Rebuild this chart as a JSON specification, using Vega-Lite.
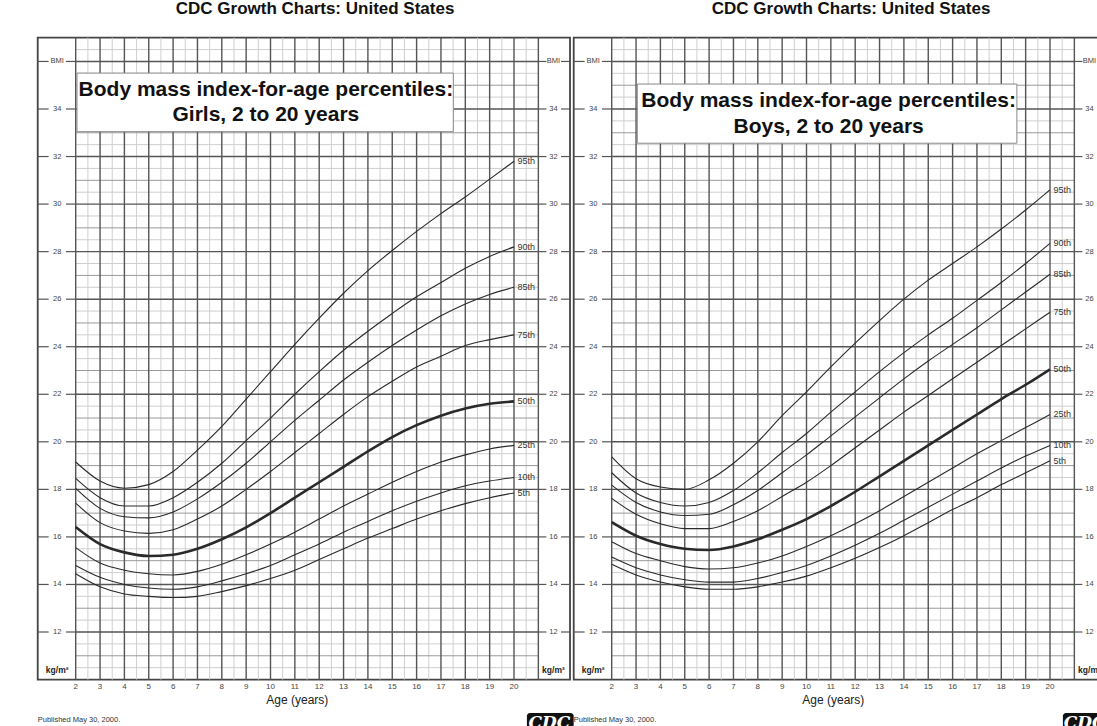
{
"$schema":"https://vega.github.io/schema/vega-lite/v6.json",
"width":1097,"height":726,"autosize":{"type":"none"},"padding":0,"background":"white",
"config":{"view":{"stroke":null},"font":"Liberation Sans"},
"datasets":{
"vmaj":[{"v":2},{"v":3},{"v":4},{"v":5},{"v":6},{"v":7},{"v":8},{"v":9},{"v":10},{"v":11},{"v":12},{"v":13},{"v":14},{"v":15},{"v":16},{"v":17},{"v":18},{"v":19},{"v":20},{"v":21}],
"vmin":[{"v":2.5},{"v":3.5},{"v":4.5},{"v":5.5},{"v":6.5},{"v":7.5},{"v":8.5},{"v":9.5},{"v":10.5},{"v":11.5},{"v":12.5},{"v":13.5},{"v":14.5},{"v":15.5},{"v":16.5},{"v":17.5},{"v":18.5},{"v":19.5},{"v":20.5}],
"heven":[{"v":12},{"v":14},{"v":16},{"v":18},{"v":20},{"v":22},{"v":24},{"v":26},{"v":28},{"v":30},{"v":32},{"v":34},{"v":36}],
"hodd":[{"v":11},{"v":13},{"v":15},{"v":17},{"v":19},{"v":21},{"v":23},{"v":25},{"v":27},{"v":29},{"v":31},{"v":33},{"v":35}],
"hhalf":[{"v":10.5},{"v":11.5},{"v":12.5},{"v":13.5},{"v":14.5},{"v":15.5},{"v":16.5},{"v":17.5},{"v":18.5},{"v":19.5},{"v":20.5},{"v":21.5},{"v":22.5},{"v":23.5},{"v":24.5},{"v":25.5},{"v":26.5},{"v":27.5},{"v":28.5},{"v":29.5},{"v":30.5},{"v":31.5},{"v":32.5},{"v":33.5},{"v":34.5},{"v":35.5},{"v":36.5}],
"ylab":[{"v":12,"t":"12"},{"v":14,"t":"14"},{"v":16,"t":"16"},{"v":18,"t":"18"},{"v":20,"t":"20"},{"v":22,"t":"22"},{"v":24,"t":"24"},{"v":26,"t":"26"},{"v":28,"t":"28"},{"v":30,"t":"30"},{"v":32,"t":"32"},{"v":34,"t":"34"},{"v":36,"t":"BMI"}],
"girls":[
{"age":2,"5th":14.45,"10th":14.8,"25th":15.55,"50th":16.42,"75th":17.42,"85th":18.04,"90th":18.46,"95th":19.15},
{"age":3,"5th":13.9,"10th":14.3,"25th":14.9,"50th":15.7,"75th":16.6,"85th":17.2,"90th":17.65,"95th":18.35},
{"age":4,"5th":13.6,"10th":14.0,"25th":14.6,"50th":15.35,"75th":16.25,"85th":16.85,"90th":17.3,"95th":18.05},
{"age":5,"5th":13.5,"10th":13.85,"25th":14.45,"50th":15.2,"75th":16.15,"85th":16.8,"90th":17.3,"95th":18.2},
{"age":6,"5th":13.45,"10th":13.8,"25th":14.4,"50th":15.25,"75th":16.3,"85th":17.05,"90th":17.65,"95th":18.75},
{"age":7,"5th":13.5,"10th":13.9,"25th":14.55,"50th":15.5,"75th":16.75,"85th":17.6,"90th":18.3,"95th":19.65},
{"age":8,"5th":13.7,"10th":14.15,"25th":14.85,"50th":15.9,"75th":17.3,"85th":18.3,"90th":19.1,"95th":20.65},
{"age":9,"5th":13.95,"10th":14.45,"25th":15.25,"50th":16.4,"75th":18.0,"85th":19.1,"90th":20.05,"95th":21.8},
{"age":10,"5th":14.25,"10th":14.8,"25th":15.7,"50th":17.0,"75th":18.75,"85th":20.0,"90th":21.0,"95th":22.95},
{"age":11,"5th":14.6,"10th":15.25,"25th":16.2,"50th":17.65,"75th":19.55,"85th":20.9,"90th":22.0,"95th":24.1},
{"age":12,"5th":15.05,"10th":15.7,"25th":16.75,"50th":18.3,"75th":20.35,"85th":21.75,"90th":22.95,"95th":25.2},
{"age":13,"5th":15.5,"10th":16.2,"25th":17.3,"50th":18.95,"75th":21.15,"85th":22.6,"90th":23.85,"95th":26.25},
{"age":14,"5th":15.95,"10th":16.65,"25th":17.8,"50th":19.6,"75th":21.9,"85th":23.35,"90th":24.65,"95th":27.2},
{"age":15,"5th":16.35,"10th":17.1,"25th":18.3,"50th":20.2,"75th":22.55,"85th":24.05,"90th":25.4,"95th":28.05},
{"age":16,"5th":16.75,"10th":17.5,"25th":18.75,"50th":20.7,"75th":23.15,"85th":24.7,"90th":26.1,"95th":28.85},
{"age":17,"5th":17.1,"10th":17.85,"25th":19.15,"50th":21.1,"75th":23.6,"85th":25.3,"90th":26.7,"95th":29.6},
{"age":18,"5th":17.4,"10th":18.15,"25th":19.45,"50th":21.4,"75th":24.05,"85th":25.8,"90th":27.3,"95th":30.3},
{"age":19,"5th":17.65,"10th":18.35,"25th":19.7,"50th":21.6,"75th":24.3,"85th":26.2,"90th":27.8,"95th":31.05},
{"age":20,"5th":17.85,"10th":18.5,"25th":19.85,"50th":21.7,"75th":24.5,"85th":26.5,"90th":28.2,"95th":31.8}],
"boys":[
{"age":2,"5th":14.85,"10th":15.15,"25th":15.8,"50th":16.62,"75th":17.62,"85th":18.18,"90th":18.7,"95th":19.37},
{"age":3,"5th":14.4,"10th":14.7,"25th":15.3,"50th":16.05,"75th":16.95,"85th":17.45,"90th":17.85,"95th":18.45},
{"age":4,"5th":14.1,"10th":14.4,"25th":15.0,"50th":15.7,"75th":16.55,"85th":17.05,"90th":17.45,"95th":18.1},
{"age":5,"5th":13.9,"10th":14.2,"25th":14.75,"50th":15.5,"75th":16.35,"85th":16.9,"90th":17.3,"95th":18.0},
{"age":6,"5th":13.8,"10th":14.1,"25th":14.65,"50th":15.45,"75th":16.35,"85th":16.95,"90th":17.45,"95th":18.4},
{"age":7,"5th":13.8,"10th":14.1,"25th":14.7,"50th":15.6,"75th":16.65,"85th":17.35,"90th":17.95,"95th":19.1},
{"age":8,"5th":13.9,"10th":14.25,"25th":14.9,"50th":15.9,"75th":17.1,"85th":17.95,"90th":18.7,"95th":20.0},
{"age":9,"5th":14.1,"10th":14.5,"25th":15.2,"50th":16.3,"75th":17.7,"85th":18.7,"90th":19.55,"95th":21.1},
{"age":10,"5th":14.35,"10th":14.8,"25th":15.6,"50th":16.75,"75th":18.3,"85th":19.45,"90th":20.35,"95th":22.1},
{"age":11,"5th":14.7,"10th":15.2,"25th":16.05,"50th":17.3,"75th":19.0,"85th":20.25,"90th":21.25,"95th":23.15},
{"age":12,"5th":15.1,"10th":15.65,"25th":16.55,"50th":17.9,"75th":19.75,"85th":21.05,"90th":22.1,"95th":24.15},
{"age":13,"5th":15.55,"10th":16.15,"25th":17.1,"50th":18.55,"75th":20.5,"85th":21.85,"90th":22.95,"95th":25.1},
{"age":14,"5th":16.05,"10th":16.7,"25th":17.7,"50th":19.2,"75th":21.25,"85th":22.65,"90th":23.75,"95th":26.0},
{"age":15,"5th":16.6,"10th":17.25,"25th":18.3,"50th":19.85,"75th":21.95,"85th":23.4,"90th":24.5,"95th":26.8},
{"age":16,"5th":17.15,"10th":17.8,"25th":18.9,"50th":20.5,"75th":22.65,"85th":24.1,"90th":25.2,"95th":27.5},
{"age":17,"5th":17.65,"10th":18.35,"25th":19.5,"50th":21.15,"75th":23.35,"85th":24.8,"90th":25.95,"95th":28.2},
{"age":18,"5th":18.2,"10th":18.9,"25th":20.05,"50th":21.8,"75th":24.05,"85th":25.55,"90th":26.7,"95th":28.95},
{"age":19,"5th":18.7,"10th":19.4,"25th":20.6,"50th":22.4,"75th":24.75,"85th":26.3,"90th":27.5,"95th":29.75},
{"age":20,"5th":19.2,"10th":19.85,"25th":21.15,"50th":23.05,"75th":25.45,"85th":27.05,"90th":28.35,"95th":30.6}]
},
"resolve":{"scale":{"x":"independent"}},
"layer":[
{"layer":[
{"data":{"values":[{}]},"mark":{"type":"rect","filled":false,"stroke":"#444","strokeWidth":1.8},"encoding":{"x":{"datum":0.44,"type":"quantitative","scale":{"domain":[-23.121,21.93],"nice":false,"zero":false},"axis":null},"x2":{"datum":22.3},"y":{"datum":10,"type":"quantitative","scale":{"domain":[8.046,38.585],"nice":false,"zero":false},"axis":null},"y2":{"datum":37}}},
{"data":{"name":"vmin"},"mark":{"type":"rule","stroke":"#cfcfcf","strokeWidth":1},"encoding":{"x":{"field":"v","type":"quantitative","scale":{"domain":[-23.121,21.93],"nice":false,"zero":false},"axis":null},"y":{"datum":10,"type":"quantitative","scale":{"domain":[8.046,38.585],"nice":false,"zero":false},"axis":null},"y2":{"datum":37}}},
{"data":{"name":"hhalf"},"mark":{"type":"rule","stroke":"#cfcfcf","strokeWidth":1},"encoding":{"y":{"field":"v","type":"quantitative","scale":{"domain":[8.046,38.585],"nice":false,"zero":false},"axis":null},"x":{"datum":2,"type":"quantitative","scale":{"domain":[-23.121,21.93],"nice":false,"zero":false},"axis":null},"x2":{"datum":21}}},
{"data":{"name":"hodd"},"mark":{"type":"rule","stroke":"#9a9a9a","strokeWidth":1},"encoding":{"y":{"field":"v","type":"quantitative","scale":{"domain":[8.046,38.585],"nice":false,"zero":false},"axis":null},"x":{"datum":2,"type":"quantitative","scale":{"domain":[-23.121,21.93],"nice":false,"zero":false},"axis":null},"x2":{"datum":21}}},
{"data":{"name":"vmaj"},"mark":{"type":"rule","stroke":"#555","strokeWidth":1.4},"encoding":{"x":{"field":"v","type":"quantitative","scale":{"domain":[-23.121,21.93],"nice":false,"zero":false},"axis":null},"y":{"datum":10,"type":"quantitative","scale":{"domain":[8.046,38.585],"nice":false,"zero":false},"axis":null},"y2":{"datum":37}}},
{"data":{"name":"heven"},"mark":{"type":"rule","stroke":"#555","strokeWidth":1.4},"encoding":{"y":{"field":"v","type":"quantitative","scale":{"domain":[8.046,38.585],"nice":false,"zero":false},"axis":null},"x":{"datum":2,"type":"quantitative","scale":{"domain":[-23.121,21.93],"nice":false,"zero":false},"axis":null},"x2":{"datum":21}}},
{"data":{"name":"heven"},"mark":{"type":"rule","stroke":"#555","strokeWidth":1.2},"encoding":{"y":{"field":"v","type":"quantitative","scale":{"domain":[8.046,38.585],"nice":false,"zero":false},"axis":null},"x":{"datum":0.44,"type":"quantitative","scale":{"domain":[-23.121,21.93],"nice":false,"zero":false},"axis":null},"x2":{"datum":0.89}}},
{"data":{"name":"heven"},"mark":{"type":"rule","stroke":"#555","strokeWidth":1.2},"encoding":{"y":{"field":"v","type":"quantitative","scale":{"domain":[8.046,38.585],"nice":false,"zero":false},"axis":null},"x":{"datum":1.6,"type":"quantitative","scale":{"domain":[-23.121,21.93],"nice":false,"zero":false},"axis":null},"x2":{"datum":2}}},
{"data":{"name":"heven"},"mark":{"type":"rule","stroke":"#555","strokeWidth":1.2},"encoding":{"y":{"field":"v","type":"quantitative","scale":{"domain":[8.046,38.585],"nice":false,"zero":false},"axis":null},"x":{"datum":21,"type":"quantitative","scale":{"domain":[-23.121,21.93],"nice":false,"zero":false},"axis":null},"x2":{"datum":21.33}}},
{"data":{"name":"heven"},"mark":{"type":"rule","stroke":"#555","strokeWidth":1.2},"encoding":{"y":{"field":"v","type":"quantitative","scale":{"domain":[8.046,38.585],"nice":false,"zero":false},"axis":null},"x":{"datum":21.93,"type":"quantitative","scale":{"domain":[-23.121,21.93],"nice":false,"zero":false},"axis":null},"x2":{"datum":22.3}}},
{"data":{"values":[{}]},"mark":{"type":"rect","fill":"white","stroke":"#888","strokeWidth":1},"encoding":{"x":{"datum":3.05,"type":"quantitative","scale":{"domain":[-23.121,21.93],"nice":false,"zero":false},"axis":null},"x2":{"datum":18.64},"y":{"datum":32.56,"type":"quantitative","scale":{"domain":[8.046,38.585],"nice":false,"zero":false},"axis":null},"y2":{"datum":35.05}}},
{"data":{"values":[{}]},"mark":{"type":"text","text":"Body mass index-for-age percentiles:","font":"Liberation Sans","fontWeight":"bold","fontSize":21,"align":"center","baseline":"middle","fill":"#111"},"encoding":{"x":{"datum":10.91,"type":"quantitative","scale":{"domain":[-23.121,21.93],"nice":false,"zero":false},"axis":null},"y":{"datum":34.32,"type":"quantitative","scale":{"domain":[8.046,38.585],"nice":false,"zero":false},"axis":null}}},
{"data":{"values":[{}]},"mark":{"type":"text","text":"Boys, 2 to 20 years","font":"Liberation Sans","fontWeight":"bold","fontSize":21,"align":"center","baseline":"middle","fill":"#111"},"encoding":{"x":{"datum":10.91,"type":"quantitative","scale":{"domain":[-23.121,21.93],"nice":false,"zero":false},"axis":null},"y":{"datum":33.26,"type":"quantitative","scale":{"domain":[8.046,38.585],"nice":false,"zero":false},"axis":null}}},
{"data":{"name":"boys"},"transform":[{"fold":["5th","10th","25th","50th","75th","85th","90th","95th"],"as":["pct","bmi"]}],"mark":{"type":"line","interpolate":"monotone","color":"#2a2a2a"},"encoding":{"x":{"field":"age","type":"quantitative","scale":{"domain":[-23.121,21.93],"nice":false,"zero":false},"axis":null},"y":{"field":"bmi","type":"quantitative","scale":{"domain":[8.046,38.585],"nice":false,"zero":false},"axis":null},"detail":{"field":"pct"},"strokeWidth":{"condition":{"test":"datum.pct==='50th'","value":2.6},"value":1.1}}},
{"data":{"name":"boys"},"transform":[{"fold":["5th","10th","25th","50th","75th","85th","90th","95th"],"as":["pct","bmi"]},{"filter":"datum.age===20"}],"mark":{"type":"text","fontSize":9,"align":"left","baseline":"middle","fill":"#333"},"encoding":{"x":{"datum":20.14,"type":"quantitative","scale":{"domain":[-23.121,21.93],"nice":false,"zero":false},"axis":null},"y":{"field":"bmi","type":"quantitative","scale":{"domain":[8.046,38.585],"nice":false,"zero":false},"axis":null},"text":{"field":"pct"}}},
{"data":{"name":"ylab"},"mark":{"type":"text","fontSize":7.5,"align":"center","baseline":"middle","fill":"#444"},"encoding":{"x":{"datum":1.24,"type":"quantitative","scale":{"domain":[-23.121,21.93],"nice":false,"zero":false},"axis":null},"y":{"field":"v","type":"quantitative","scale":{"domain":[8.046,38.585],"nice":false,"zero":false},"axis":null},"text":{"field":"t"}}},
{"data":{"name":"ylab"},"mark":{"type":"text","fontSize":7.5,"align":"center","baseline":"middle","fill":"#444"},"encoding":{"x":{"datum":21.62,"type":"quantitative","scale":{"domain":[-23.121,21.93],"nice":false,"zero":false},"axis":null},"y":{"field":"v","type":"quantitative","scale":{"domain":[8.046,38.585],"nice":false,"zero":false},"axis":null},"text":{"field":"t"}}},
{"data":{"values":[{}]},"mark":{"type":"text","text":"kg/m²","fontSize":8.5,"fontWeight":"bold","align":"center","baseline":"middle","fill":"#222"},"encoding":{"x":{"datum":1.24,"type":"quantitative","scale":{"domain":[-23.121,21.93],"nice":false,"zero":false},"axis":null},"y":{"datum":10.4,"type":"quantitative","scale":{"domain":[8.046,38.585],"nice":false,"zero":false},"axis":null}}},
{"data":{"values":[{}]},"mark":{"type":"text","text":"kg/m²","fontSize":8.5,"fontWeight":"bold","align":"center","baseline":"middle","fill":"#222"},"encoding":{"x":{"datum":21.62,"type":"quantitative","scale":{"domain":[-23.121,21.93],"nice":false,"zero":false},"axis":null},"y":{"datum":10.4,"type":"quantitative","scale":{"domain":[8.046,38.585],"nice":false,"zero":false},"axis":null}}},
{"data":{"name":"vmaj"},"transform":[{"filter":"datum.v<=20"}],"mark":{"type":"text","fontSize":8,"align":"center","baseline":"middle","fill":"#444"},"encoding":{"x":{"field":"v","type":"quantitative","scale":{"domain":[-23.121,21.93],"nice":false,"zero":false},"axis":null},"y":{"datum":9.674,"type":"quantitative","scale":{"domain":[8.046,38.585],"nice":false,"zero":false},"axis":null},"text":{"field":"v"}}},
{"data":{"values":[{}]},"mark":{"type":"text","text":"Age (years)","fontSize":12,"align":"center","baseline":"middle","fill":"#222"},"encoding":{"x":{"datum":11.1,"type":"quantitative","scale":{"domain":[-23.121,21.93],"nice":false,"zero":false},"axis":null},"y":{"datum":9.13,"type":"quantitative","scale":{"domain":[8.046,38.585],"nice":false,"zero":false},"axis":null}}},
{"data":{"values":[{}]},"mark":{"type":"text","text":"Published May 30, 2000.","fontSize":7.5,"align":"left","baseline":"middle","fill":"#333"},"encoding":{"x":{"datum":0.44,"type":"quantitative","scale":{"domain":[-23.121,21.93],"nice":false,"zero":false},"axis":null},"y":{"datum":8.3,"type":"quantitative","scale":{"domain":[8.046,38.585],"nice":false,"zero":false},"axis":null}}},
{"data":{"values":[{}]},"mark":{"type":"text","text":"SOURCE: Developed by the National Center for Health Statistics in collaboration with","fontSize":7.5,"align":"left","baseline":"middle","fill":"#333"},"encoding":{"x":{"datum":0.44,"type":"quantitative","scale":{"domain":[-23.121,21.93],"nice":false,"zero":false},"axis":null},"y":{"datum":7.84,"type":"quantitative","scale":{"domain":[8.046,38.585],"nice":false,"zero":false},"axis":null}}},
{"data":{"values":[{}]},"mark":{"type":"rect","fill":"#111","cornerRadius":3},"encoding":{"x":{"datum":20.53,"type":"quantitative","scale":{"domain":[-23.121,21.93],"nice":false,"zero":false},"axis":null},"x2":{"datum":22.3},"y":{"datum":8.59,"type":"quantitative","scale":{"domain":[8.046,38.585],"nice":false,"zero":false},"axis":null},"y2":{"datum":7.8}}},
{"data":{"values":[{}]},"mark":{"type":"text","text":"CDC","font":"DejaVu Serif","fontWeight":"bold","fontStyle":"italic","fontSize":17,"align":"center","baseline":"alphabetic","fill":"white"},"encoding":{"x":{"datum":21.42,"type":"quantitative","scale":{"domain":[-23.121,21.93],"nice":false,"zero":false},"axis":null},"y":{"datum":7.96,"type":"quantitative","scale":{"domain":[8.046,38.585],"nice":false,"zero":false},"axis":null}}},
{"data":{"values":[{}]},"mark":{"type":"text","text":"CDC Growth Charts: United States","fontSize":17,"fontWeight":"bold","align":"center","baseline":"middle","fill":"#111"},"encoding":{"x":{"datum":11.83,"type":"quantitative","scale":{"domain":[-23.121,21.93],"nice":false,"zero":false},"axis":null},"y":{"datum":38.206,"type":"quantitative","scale":{"domain":[8.046,38.585],"nice":false,"zero":false},"axis":null}}}
]},
{"layer":[
{"data":{"values":[{}]},"mark":{"type":"rect","filled":false,"stroke":"#444","strokeWidth":1.8},"encoding":{"x":{"datum":0.44,"type":"quantitative","scale":{"domain":[-1.1088,43.942],"nice":false,"zero":false},"axis":null},"x2":{"datum":22.3},"y":{"datum":10,"type":"quantitative","scale":{"domain":[8.046,38.585],"nice":false,"zero":false},"axis":null},"y2":{"datum":37}}},
{"data":{"name":"vmin"},"mark":{"type":"rule","stroke":"#cfcfcf","strokeWidth":1},"encoding":{"x":{"field":"v","type":"quantitative","scale":{"domain":[-1.1088,43.942],"nice":false,"zero":false},"axis":null},"y":{"datum":10,"type":"quantitative","scale":{"domain":[8.046,38.585],"nice":false,"zero":false},"axis":null},"y2":{"datum":37}}},
{"data":{"name":"hhalf"},"mark":{"type":"rule","stroke":"#cfcfcf","strokeWidth":1},"encoding":{"y":{"field":"v","type":"quantitative","scale":{"domain":[8.046,38.585],"nice":false,"zero":false},"axis":null},"x":{"datum":2,"type":"quantitative","scale":{"domain":[-1.1088,43.942],"nice":false,"zero":false},"axis":null},"x2":{"datum":21}}},
{"data":{"name":"hodd"},"mark":{"type":"rule","stroke":"#9a9a9a","strokeWidth":1},"encoding":{"y":{"field":"v","type":"quantitative","scale":{"domain":[8.046,38.585],"nice":false,"zero":false},"axis":null},"x":{"datum":2,"type":"quantitative","scale":{"domain":[-1.1088,43.942],"nice":false,"zero":false},"axis":null},"x2":{"datum":21}}},
{"data":{"name":"vmaj"},"mark":{"type":"rule","stroke":"#555","strokeWidth":1.4},"encoding":{"x":{"field":"v","type":"quantitative","scale":{"domain":[-1.1088,43.942],"nice":false,"zero":false},"axis":null},"y":{"datum":10,"type":"quantitative","scale":{"domain":[8.046,38.585],"nice":false,"zero":false},"axis":null},"y2":{"datum":37}}},
{"data":{"name":"heven"},"mark":{"type":"rule","stroke":"#555","strokeWidth":1.4},"encoding":{"y":{"field":"v","type":"quantitative","scale":{"domain":[8.046,38.585],"nice":false,"zero":false},"axis":null},"x":{"datum":2,"type":"quantitative","scale":{"domain":[-1.1088,43.942],"nice":false,"zero":false},"axis":null},"x2":{"datum":21}}},
{"data":{"name":"heven"},"mark":{"type":"rule","stroke":"#555","strokeWidth":1.2},"encoding":{"y":{"field":"v","type":"quantitative","scale":{"domain":[8.046,38.585],"nice":false,"zero":false},"axis":null},"x":{"datum":0.44,"type":"quantitative","scale":{"domain":[-1.1088,43.942],"nice":false,"zero":false},"axis":null},"x2":{"datum":0.89}}},
{"data":{"name":"heven"},"mark":{"type":"rule","stroke":"#555","strokeWidth":1.2},"encoding":{"y":{"field":"v","type":"quantitative","scale":{"domain":[8.046,38.585],"nice":false,"zero":false},"axis":null},"x":{"datum":1.6,"type":"quantitative","scale":{"domain":[-1.1088,43.942],"nice":false,"zero":false},"axis":null},"x2":{"datum":2}}},
{"data":{"name":"heven"},"mark":{"type":"rule","stroke":"#555","strokeWidth":1.2},"encoding":{"y":{"field":"v","type":"quantitative","scale":{"domain":[8.046,38.585],"nice":false,"zero":false},"axis":null},"x":{"datum":21,"type":"quantitative","scale":{"domain":[-1.1088,43.942],"nice":false,"zero":false},"axis":null},"x2":{"datum":21.33}}},
{"data":{"name":"heven"},"mark":{"type":"rule","stroke":"#555","strokeWidth":1.2},"encoding":{"y":{"field":"v","type":"quantitative","scale":{"domain":[8.046,38.585],"nice":false,"zero":false},"axis":null},"x":{"datum":21.93,"type":"quantitative","scale":{"domain":[-1.1088,43.942],"nice":false,"zero":false},"axis":null},"x2":{"datum":22.3}}},
{"data":{"values":[{}]},"mark":{"type":"rect","fill":"white","stroke":"#888","strokeWidth":1},"encoding":{"x":{"datum":2.053,"type":"quantitative","scale":{"domain":[-1.1088,43.942],"nice":false,"zero":false},"axis":null},"x2":{"datum":17.507},"y":{"datum":33.045,"type":"quantitative","scale":{"domain":[8.046,38.585],"nice":false,"zero":false},"axis":null},"y2":{"datum":35.51}}},
{"data":{"values":[{}]},"mark":{"type":"text","text":"Body mass index-for-age percentiles:","font":"Liberation Sans","fontWeight":"bold","fontSize":21,"align":"center","baseline":"middle","fill":"#111"},"encoding":{"x":{"datum":9.81,"type":"quantitative","scale":{"domain":[-1.1088,43.942],"nice":false,"zero":false},"axis":null},"y":{"datum":34.8,"type":"quantitative","scale":{"domain":[8.046,38.585],"nice":false,"zero":false},"axis":null}}},
{"data":{"values":[{}]},"mark":{"type":"text","text":"Girls, 2 to 20 years","font":"Liberation Sans","fontWeight":"bold","fontSize":21,"align":"center","baseline":"middle","fill":"#111"},"encoding":{"x":{"datum":9.81,"type":"quantitative","scale":{"domain":[-1.1088,43.942],"nice":false,"zero":false},"axis":null},"y":{"datum":33.75,"type":"quantitative","scale":{"domain":[8.046,38.585],"nice":false,"zero":false},"axis":null}}},
{"data":{"name":"girls"},"transform":[{"fold":["5th","10th","25th","50th","75th","85th","90th","95th"],"as":["pct","bmi"]}],"mark":{"type":"line","interpolate":"monotone","color":"#2a2a2a"},"encoding":{"x":{"field":"age","type":"quantitative","scale":{"domain":[-1.1088,43.942],"nice":false,"zero":false},"axis":null},"y":{"field":"bmi","type":"quantitative","scale":{"domain":[8.046,38.585],"nice":false,"zero":false},"axis":null},"detail":{"field":"pct"},"strokeWidth":{"condition":{"test":"datum.pct==='50th'","value":2.6},"value":1.1}}},
{"data":{"name":"girls"},"transform":[{"fold":["5th","10th","25th","50th","75th","85th","90th","95th"],"as":["pct","bmi"]},{"filter":"datum.age===20"}],"mark":{"type":"text","fontSize":9,"align":"left","baseline":"middle","fill":"#333"},"encoding":{"x":{"datum":20.14,"type":"quantitative","scale":{"domain":[-1.1088,43.942],"nice":false,"zero":false},"axis":null},"y":{"field":"bmi","type":"quantitative","scale":{"domain":[8.046,38.585],"nice":false,"zero":false},"axis":null},"text":{"field":"pct"}}},
{"data":{"name":"ylab"},"mark":{"type":"text","fontSize":7.5,"align":"center","baseline":"middle","fill":"#444"},"encoding":{"x":{"datum":1.24,"type":"quantitative","scale":{"domain":[-1.1088,43.942],"nice":false,"zero":false},"axis":null},"y":{"field":"v","type":"quantitative","scale":{"domain":[8.046,38.585],"nice":false,"zero":false},"axis":null},"text":{"field":"t"}}},
{"data":{"name":"ylab"},"mark":{"type":"text","fontSize":7.5,"align":"center","baseline":"middle","fill":"#444"},"encoding":{"x":{"datum":21.62,"type":"quantitative","scale":{"domain":[-1.1088,43.942],"nice":false,"zero":false},"axis":null},"y":{"field":"v","type":"quantitative","scale":{"domain":[8.046,38.585],"nice":false,"zero":false},"axis":null},"text":{"field":"t"}}},
{"data":{"values":[{}]},"mark":{"type":"text","text":"kg/m²","fontSize":8.5,"fontWeight":"bold","align":"center","baseline":"middle","fill":"#222"},"encoding":{"x":{"datum":1.24,"type":"quantitative","scale":{"domain":[-1.1088,43.942],"nice":false,"zero":false},"axis":null},"y":{"datum":10.4,"type":"quantitative","scale":{"domain":[8.046,38.585],"nice":false,"zero":false},"axis":null}}},
{"data":{"values":[{}]},"mark":{"type":"text","text":"kg/m²","fontSize":8.5,"fontWeight":"bold","align":"center","baseline":"middle","fill":"#222"},"encoding":{"x":{"datum":21.62,"type":"quantitative","scale":{"domain":[-1.1088,43.942],"nice":false,"zero":false},"axis":null},"y":{"datum":10.4,"type":"quantitative","scale":{"domain":[8.046,38.585],"nice":false,"zero":false},"axis":null}}},
{"data":{"name":"vmaj"},"transform":[{"filter":"datum.v<=20"}],"mark":{"type":"text","fontSize":8,"align":"center","baseline":"middle","fill":"#444"},"encoding":{"x":{"field":"v","type":"quantitative","scale":{"domain":[-1.1088,43.942],"nice":false,"zero":false},"axis":null},"y":{"datum":9.674,"type":"quantitative","scale":{"domain":[8.046,38.585],"nice":false,"zero":false},"axis":null},"text":{"field":"v"}}},
{"data":{"values":[{}]},"mark":{"type":"text","text":"Age (years)","fontSize":12,"align":"center","baseline":"middle","fill":"#222"},"encoding":{"x":{"datum":11.1,"type":"quantitative","scale":{"domain":[-1.1088,43.942],"nice":false,"zero":false},"axis":null},"y":{"datum":9.13,"type":"quantitative","scale":{"domain":[8.046,38.585],"nice":false,"zero":false},"axis":null}}},
{"data":{"values":[{}]},"mark":{"type":"text","text":"Published May 30, 2000.","fontSize":7.5,"align":"left","baseline":"middle","fill":"#333"},"encoding":{"x":{"datum":0.44,"type":"quantitative","scale":{"domain":[-1.1088,43.942],"nice":false,"zero":false},"axis":null},"y":{"datum":8.3,"type":"quantitative","scale":{"domain":[8.046,38.585],"nice":false,"zero":false},"axis":null}}},
{"data":{"values":[{}]},"mark":{"type":"text","text":"SOURCE: Developed by the National Center for Health Statistics in collaboration with","fontSize":7.5,"align":"left","baseline":"middle","fill":"#333"},"encoding":{"x":{"datum":0.44,"type":"quantitative","scale":{"domain":[-1.1088,43.942],"nice":false,"zero":false},"axis":null},"y":{"datum":7.84,"type":"quantitative","scale":{"domain":[8.046,38.585],"nice":false,"zero":false},"axis":null}}},
{"data":{"values":[{}]},"mark":{"type":"rect","fill":"#111","cornerRadius":3},"encoding":{"x":{"datum":20.53,"type":"quantitative","scale":{"domain":[-1.1088,43.942],"nice":false,"zero":false},"axis":null},"x2":{"datum":22.45},"y":{"datum":8.59,"type":"quantitative","scale":{"domain":[8.046,38.585],"nice":false,"zero":false},"axis":null},"y2":{"datum":7.8}}},
{"data":{"values":[{}]},"mark":{"type":"text","text":"CDC","font":"DejaVu Serif","fontWeight":"bold","fontStyle":"italic","fontSize":17,"align":"center","baseline":"alphabetic","fill":"white"},"encoding":{"x":{"datum":21.45,"type":"quantitative","scale":{"domain":[-1.1088,43.942],"nice":false,"zero":false},"axis":null},"y":{"datum":7.96,"type":"quantitative","scale":{"domain":[8.046,38.585],"nice":false,"zero":false},"axis":null}}},
{"data":{"values":[{}]},"mark":{"type":"text","text":"CDC Growth Charts: United States","fontSize":17,"fontWeight":"bold","align":"center","baseline":"middle","fill":"#111"},"encoding":{"x":{"datum":11.83,"type":"quantitative","scale":{"domain":[-1.1088,43.942],"nice":false,"zero":false},"axis":null},"y":{"datum":38.206,"type":"quantitative","scale":{"domain":[8.046,38.585],"nice":false,"zero":false},"axis":null}}}
]}
]
}
